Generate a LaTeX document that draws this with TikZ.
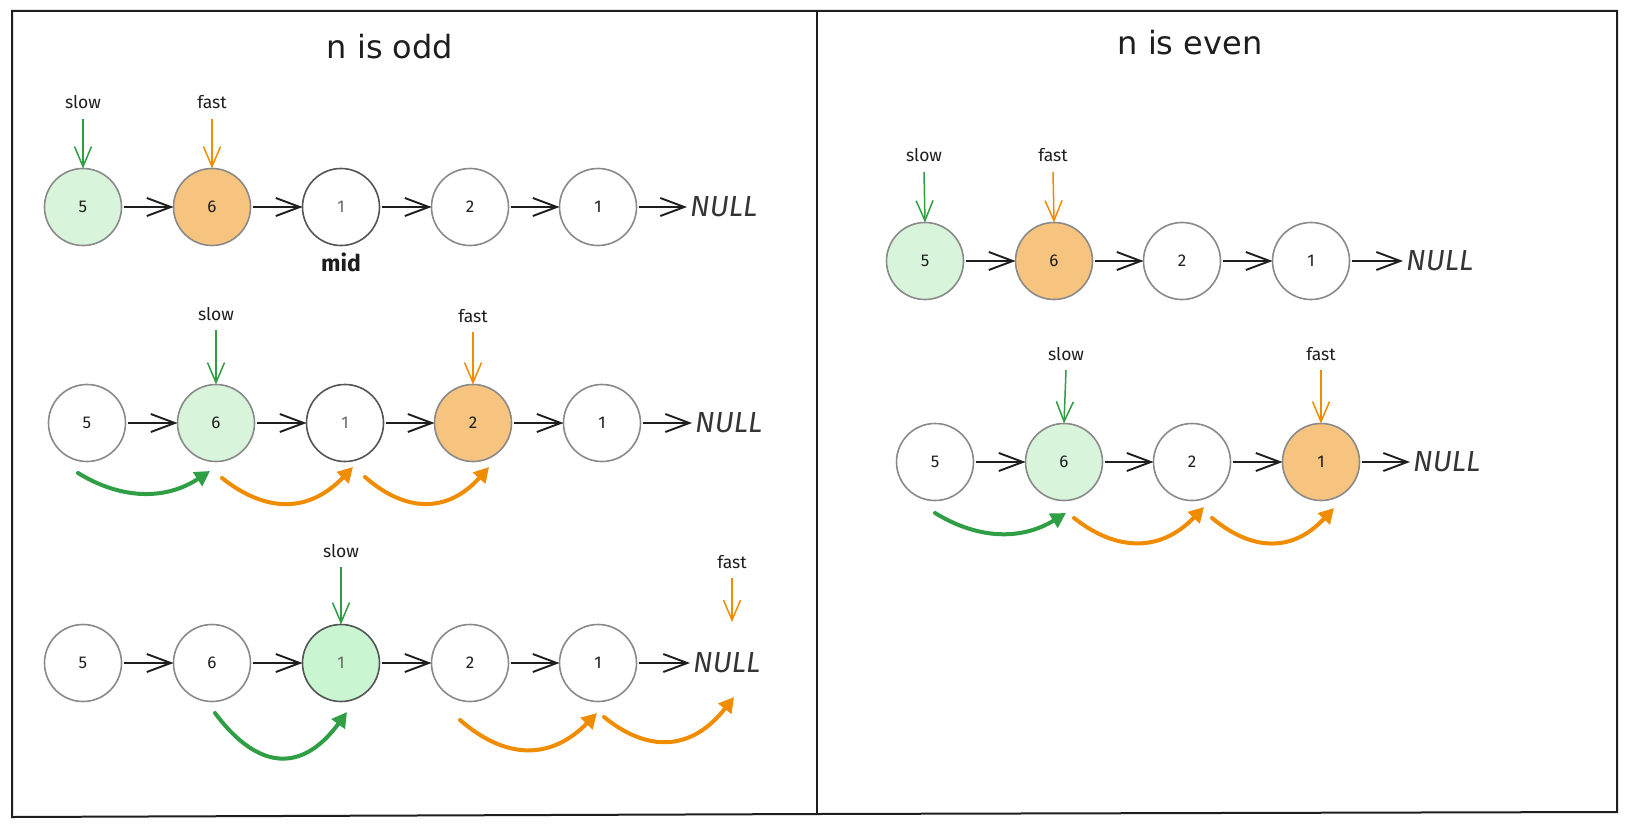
\documentclass[tikz,border=0pt]{standalone}
\usepackage{fontspec}
\setmainfont{Fira Sans}
\newfontfamily\ttlfont{DejaVu Sans}
\usetikzlibrary{arrows.meta}
\definecolor{grnfill}{HTML}{D8F5DC}
\definecolor{grnfill2}{HTML}{C9F5D1}
\definecolor{orgfill}{HTML}{F7C47F}
\definecolor{grn}{HTML}{2F9E44}
\definecolor{org}{HTML}{F08C00}
\definecolor{ink}{HTML}{1E1E1E}
\definecolor{cgray}{HTML}{8A8A8A}
\definecolor{cdark}{HTML}{555555}
\definecolor{tgray}{HTML}{666666}
\begin{document}
\begin{tikzpicture}[x=1pt,y=-1pt,
  nd/.style={circle, minimum size=77pt, inner sep=0pt, outer sep=0pt, draw=cgray, line width=1.6pt, fill=white, font=\fontsize{17}{17}\selectfont, text=ink},
  ndg/.style={nd, fill=grnfill},
  ndo/.style={nd, fill=orgfill},
  ndd/.style={nd, draw=cdark, text=tgray},
  ndgg/.style={nd, fill=grnfill2, draw=cdark, text=tgray},
  lnk/.style={draw=ink, line width=1.9pt, -{Straight Barb[length=24pt,width=18pt]}, shorten <=2pt},
  lnkn/.style={lnk, shorten >=3pt},
  ptrg/.style={draw=grn, line width=1.5pt, -{Straight Barb[length=20pt,width=17pt]}},
  ptro/.style={draw=org, line width=1.5pt, -{Straight Barb[length=20pt,width=17pt]}},
  cg/.style={draw=grn, line width=4pt, line cap=round, -{Triangle[length=15pt,width=16pt]}},
  co/.style={draw=org, line width=4pt, line cap=round, -{Triangle[length=15pt,width=16pt]}},
  lbl/.style={font=\fontsize{17.5}{17.5}\selectfont, text=ink, anchor=base, inner sep=0pt},
  nul/.style={font=\itshape\fontsize{29}{29}\selectfont, text=ink!90, anchor=west, inner sep=0pt},
  ttl/.style={font=\ttlfont\fontsize{32}{32}\selectfont, text=ink, anchor=base, inner sep=0pt},
  midl/.style={font=\bfseries\fontsize{23}{23}\selectfont, text=ink, anchor=base, inner sep=0pt},
  frame/.style={draw=ink, line width=2pt}
]
\fill[white] (0,0) rectangle (1629,829);
\useasboundingbox (0,0) rectangle (1629,829);

% frames
\coordinate (f1) at (12,11);
\coordinate (f2) at (817,11);
\coordinate (f3) at (1617,11);
\coordinate (f4) at (1617,812);
\coordinate (f5) at (817,814);
\coordinate (f6) at (12,817);
\draw[frame] (f1) -- (f3) -- (f4) -- (f5) -- (f6) -- cycle;
\draw[frame] (f2) -- (f5);

% titles
\node[ttl] (t1) at (390,59) {n is odd};
\node[ttl] (t2) at (1190,55) {n is even};

% ---------- left row 1
\node[ndg] (a1) at (83,207) {5};
\node[ndo] (a2) at (212,207) {6};
\node[ndd] (a3) at (341,207) {1};
\node[nd]  (a4) at (470,207) {2};
\node[nd]  (a5) at (598,207) {1};
\node[nul] (an) at (690,207) {NULL};
\draw[lnk] (a1) -- (a2);
\draw[lnk] (a2) -- (a3);
\draw[lnk] (a3) -- (a4);
\draw[lnk] (a4) -- (a5);
\draw[lnkn] (a5) -- (an.west);
\node[lbl] (as) at (83,109) {slow};
\node[lbl] (af) at (212,109) {fast};
\draw[ptrg] ([yshift=-10pt]as.base) -- (a1.north);
\draw[ptro] ([yshift=-10pt]af.base) -- (a2.north);
\node[midl] (amid) at (341,271) {mid};

% ---------- left row 2
\node[nd]  (b1) at (87,423) {5};
\node[ndg] (b2) at (216,423) {6};
\node[ndd] (b3) at (345,423) {1};
\node[ndo] (b4) at (473,423) {2};
\node[nd]  (b5) at (602,423) {1};
\node[nul] (bn) at (695,423) {NULL};
\draw[lnk] (b1) -- (b2);
\draw[lnk] (b2) -- (b3);
\draw[lnk] (b3) -- (b4);
\draw[lnk] (b4) -- (b5);
\draw[lnkn] (b5) -- (bn.west);
\node[lbl] (bs) at (216,320) {slow};
\node[lbl] (bf) at (473,322) {fast};
\draw[ptrg] ([yshift=-10pt]bs.base) -- (b2.north);
\draw[ptro] ([yshift=-10pt]bf.base) -- (b4.north);
\coordinate (g2s) at (78,473);  \coordinate (g2t) at (210,471);
\coordinate (o2s) at (222,478); \coordinate (o2t) at (353,467);
\coordinate (p2s) at (365,477); \coordinate (p2t) at (489,467);
\draw[cg] (g2s) .. controls (122,500) and (166,500) .. (g2t);
\draw[co] (o2s) .. controls (266,513) and (309,513) .. (o2t);
\draw[co] (p2s) .. controls (406,513) and (448,513) .. (p2t);

% ---------- left row 3
\node[nd]   (c1) at (83,663) {5};
\node[nd]   (c2) at (212,663) {6};
\node[ndgg] (c3) at (341,663) {1};
\node[nd]   (c4) at (470,663) {2};
\node[nd]   (c5) at (598,663) {1};
\node[nul]  (cn) at (693,663) {NULL};
\draw[lnk] (c1) -- (c2);
\draw[lnk] (c2) -- (c3);
\draw[lnk] (c3) -- (c4);
\draw[lnk] (c4) -- (c5);
\draw[lnkn] (c5) -- (cn.west);
\node[lbl] (cs) at (341,557) {slow};
\node[lbl] (cf) at (732,568) {fast};
\coordinate (cft) at (732,622);
\draw[ptrg] ([yshift=-10pt]cs.base) -- (c3.north);
\draw[ptro] ([yshift=-10pt]cf.base) -- (cft);
\coordinate (g3s) at (215,713); \coordinate (g3t) at (347,712);
\coordinate (o3s) at (460,720); \coordinate (o3t) at (597,713);
\coordinate (p3s) at (604,717); \coordinate (p3t) at (734,697);
\draw[cg] (g3s) .. controls (259,772) and (303,772) .. (g3t);
\draw[co] (o3s) .. controls (506,760) and (551,760) .. (o3t);
\draw[co] (p3s) .. controls (647,752) and (691,752) .. (p3t);

% ---------- right row 1
\node[ndg] (d1) at (925,261) {5};
\node[ndo] (d2) at (1054,261) {6};
\node[nd]  (d3) at (1182,261) {2};
\node[nd]  (d4) at (1311,261) {1};
\node[nul] (dn) at (1406,261) {NULL};
\draw[lnk] (d1) -- (d2);
\draw[lnk] (d2) -- (d3);
\draw[lnk] (d3) -- (d4);
\draw[lnkn] (d4) -- (dn.west);
\node[lbl] (ds) at (924,162) {slow};
\node[lbl] (df) at (1053,162) {fast};
\draw[ptrg] ([yshift=-10pt]ds.base) -- (d1.north);
\draw[ptro] ([yshift=-10pt]df.base) -- (d2.north);

% ---------- right row 2
\node[nd]  (e1) at (935,462) {5};
\node[ndg] (e2) at (1064,462) {6};
\node[nd]  (e3) at (1192,462) {2};
\node[ndo] (e4) at (1321,462) {1};
\node[nul] (en) at (1413,462) {NULL};
\draw[lnk] (e1) -- (e2);
\draw[lnk] (e2) -- (e3);
\draw[lnk] (e3) -- (e4);
\draw[lnkn] (e4) -- (en.west);
\node[lbl] (es) at (1066,360) {slow};
\node[lbl] (ef) at (1321,360) {fast};
\draw[ptrg] ([yshift=-10pt]es.base) -- (e2.north);
\draw[ptro] ([yshift=-10pt]ef.base) -- (e4.north);
\coordinate (g4s) at (935,513);  \coordinate (g4t) at (1066,513);
\coordinate (o4s) at (1074,518); \coordinate (o4t) at (1204,507);
\coordinate (p4s) at (1212,518); \coordinate (p4t) at (1334,508);
\draw[cg] (g4s) .. controls (979,540) and (1022,540) .. (g4t);
\draw[co] (o4s) .. controls (1117,552) and (1161,552) .. (o4t);
\draw[co] (p4s) .. controls (1253,552) and (1293,552) .. (p4t);
\end{tikzpicture}
\end{document}
